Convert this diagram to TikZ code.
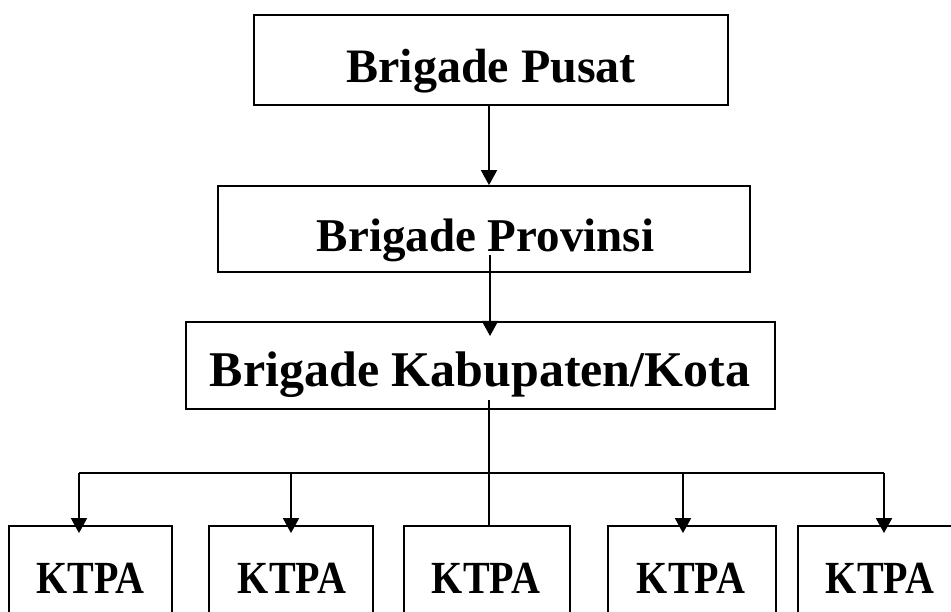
\documentclass[tikz,border=0pt]{standalone}
\usepackage{fontspec}
\setmainfont{Liberation Serif}
\usetikzlibrary{arrows.meta}
\newcommand{\boxtext}[3]{\scalebox{#1}[1]{\fontsize{#2}{#2}\selectfont\bfseries #3}}
\begin{document}
\begin{tikzpicture}[x=1pt,y=-1pt,
  boxn/.style={draw, line width=1.8pt, rectangle, inner sep=0pt},
  lbl/.style={anchor=base, inner sep=0pt},
  ln/.style={line width=1.8pt},
  arr/.style={line width=1.8pt, -{Triangle[length=15pt,width=16pt]}}]
\useasboundingbox (0,0) rectangle (951,612);
% boxes
\node[boxn, minimum width=474pt, minimum height=90pt] (pusat) at (491,60) {};
\node[boxn, minimum width=532pt, minimum height=86pt] (prov) at (484,229) {};
\node[boxn, minimum width=589pt, minimum height=87pt] (kab) at (480.5,365.5) {};
\node[boxn, minimum width=163pt, minimum height=114pt] (k1) at (90.5,583) {};
\node[boxn, minimum width=164pt, minimum height=114pt] (k2) at (291,583) {};
\node[boxn, minimum width=166pt, minimum height=114pt] (k3) at (487,583) {};
\node[boxn, minimum width=168pt, minimum height=114pt] (k4) at (692,583) {};
\node[boxn, minimum width=164pt, minimum height=114pt] (k5) at (880,583) {};
% texts
\node[lbl] (tpusat) at (491,83) {\boxtext{1}{48}{Brigade Pusat}};
\node[lbl] (tprov) at (485.5,252) {\boxtext{1}{47}{Brigade Provinsi}};
\node[lbl] (tkab) at (480,387) {\boxtext{1}{50}{Brigade Kabupaten/Kota}};
\node[lbl] (tk1) at (90.5,593) {\boxtext{0.87}{46}{KTPA}};
\node[lbl] (tk2) at (292,593) {\boxtext{0.87}{46}{KTPA}};
\node[lbl] (tk3) at (486,593) {\boxtext{0.87}{46}{KTPA}};
\node[lbl] (tk4) at (691,593) {\boxtext{0.87}{46}{KTPA}};
\node[lbl] (tk5) at (880,593) {\boxtext{0.87}{46}{KTPA}};
% connector points
\coordinate (pk1) at (490,255);
\coordinate (pk2) at (490,336);
\coordinate (kb) at (489,400);
\coordinate (hl) at (79,473);
\coordinate (hr) at (884,473);
\coordinate (h2) at (291,473);
\coordinate (h4) at (683,473);
% connectors
\draw[arr] ([xshift=-2pt]pusat.south) -- ([xshift=-2pt]pusat.south |- prov.north);
\draw[arr] (pk1) -- (pk2);
\draw[ln] (kb) -- (kb |- k3.north);
\draw[ln] (hl) -- (hr);
\draw[arr] (hl) -- ([yshift=-8pt]hl |- k1.north);
\draw[arr] (h2) -- ([yshift=-8pt]h2 |- k2.north);
\draw[arr] (h4) -- ([yshift=-8pt]h4 |- k4.north);
\draw[arr] (hr) -- ([yshift=-8pt]hr |- k5.north);
\end{tikzpicture}
\end{document}
